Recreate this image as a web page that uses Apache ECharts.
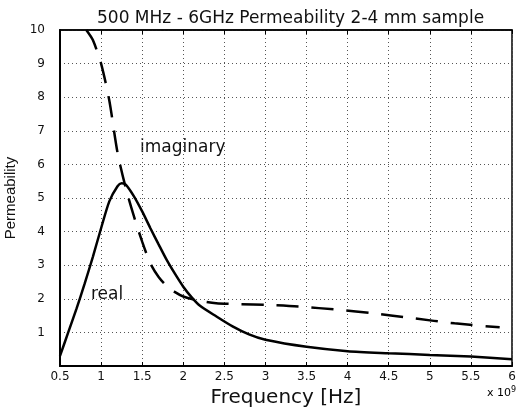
<!DOCTYPE html>
<html><head><meta charset="utf-8">
<script src="https://cdn.jsdelivr.net/npm/echarts@6/dist/echarts.min.js"></script>
<style>html,body{margin:0;padding:0;background:#fff}#c{width:522px;height:407px}</style>
</head><body><div id="c"></div>
<script>
const realFreq = [0.5, 0.6, 0.7, 0.8, 0.9, 1.0, 1.1, 1.2, 1.25, 1.3, 1.4, 1.5, 1.6, 1.7, 1.8, 1.9, 2.0, 2.1, 2.2, 2.4, 2.6, 2.8, 3.0, 3.5, 4.0, 4.5, 5.0, 5.5, 6.0];
const realVal  = [0.3, 1.0, 1.7, 2.45, 3.25, 4.1, 4.9, 5.35, 5.44, 5.4, 5.05, 4.6, 4.1, 3.62, 3.15, 2.74, 2.36, 2.05, 1.8, 1.48, 1.18, 0.94, 0.78, 0.57, 0.44, 0.38, 0.33, 0.28, 0.2];
const imagFreq = [0.82, 0.9, 1.0, 1.1, 1.2, 1.3, 1.4, 1.5, 1.6, 1.7, 1.8, 1.9, 2.0, 2.2, 2.4, 2.7, 3.0, 3.4, 3.9, 4.3, 4.8, 5.3, 5.85];
const imagVal  = [10.0, 9.7, 9.0, 7.9, 6.35, 5.3, 4.45, 3.7, 3.05, 2.65, 2.38, 2.2, 2.07, 1.94, 1.87, 1.84, 1.82, 1.77, 1.67, 1.57, 1.42, 1.27, 1.15];
const titleText = '500 MHz - 6GHz Permeability 2-4 mm sample';
const xName = 'Frequency [Hz]';
const yName = 'Permeability';

const arial = 'Liberation Sans, Arial, sans-serif';
const dv = 'DejaVu Sans, sans-serif';
const chart = echarts.init(document.getElementById('c'));
const pairs = (xs, ys) => xs.map((x, i) => [x, ys[i]]);
chart.setOption({
  animation: false,
  title: { text: titleText, left: 92, top: 5, textStyle: { fontFamily: dv, fontSize: 17, fontWeight: 'normal', color: '#111' } },
  grid: { left: 60, right: 10, top: 30, bottom: 41, show: true, borderColor: '#000', borderWidth: 1.5, outerBoundsMode: 'none', containLabel: false },
  xAxis: [{
    type: 'value', min: 0.5, max: 6, interval: 0.5,
    name: xName, nameLocation: 'middle', nameGap: 11,
    nameTextStyle: { fontFamily: dv, fontSize: 20, color: '#111' },
    axisLine: { show: true, lineStyle: { color: '#000', width: 2 } },
    axisTick: { show: true, inside: true, length: 4, lineStyle: { color: '#000' } },
    axisLabel: { fontFamily: dv, fontSize: 12, color: '#111', margin: 5 },
    splitLine: { show: true, lineStyle: { color: '#555', type: [1, 3], width: 1 } }
  }, {
    type: 'value', position: 'top', min: 0.5, max: 6, interval: 0.5,
    axisLine: { show: true, lineStyle: { color: '#000', width: 1.5 } },
    axisTick: { show: true, inside: true, length: 4, lineStyle: { color: '#000' } },
    axisLabel: { show: false }, splitLine: { show: false }
  }],
  yAxis: {
    type: 'value', min: 0, max: 10, interval: 1,
    name: yName, nameLocation: 'middle', nameGap: 36, nameRotate: 90,
    nameTextStyle: { fontFamily: arial, fontSize: 15, color: '#111' },
    axisLine: { show: true, lineStyle: { color: '#000', width: 2 } },
    axisTick: { show: false },
    axisLabel: { fontFamily: dv, fontSize: 12, color: '#111', margin: 15,
      formatter: v => v === 0 ? '' : String(v) },
    splitLine: { show: true, lineStyle: { color: '#555', type: [1, 3], width: 1 } }
  },
  series: [
    { type: 'line', name: 'real', xAxisIndex: 0, data: pairs(realFreq, realVal), smooth: 0.25, symbol: 'none',
      lineStyle: { color: '#000', width: 2.5 } },
    { type: 'line', name: 'imaginary', xAxisIndex: 0, data: pairs(imagFreq, imagVal), smooth: 0.25, symbol: 'none',
      lineStyle: { color: '#000', width: 2.5, type: [22, 13] } }
  ],
  graphic: [
    { type: 'text', left: 140, top: 139, style: { text: 'imaginary', font: '17px ' + dv, fill: '#111' } },
    { type: 'text', left: 91, top: 286, style: { text: 'real', font: '17px ' + dv, fill: '#111' } },
    { type: 'text', left: 487, top: 386, style: { rich: { a: { fontSize: 11, fontFamily: dv, color: '#111' }, s: { fontSize: 8, fontFamily: dv, color: '#111', verticalAlign: 'top', padding: [0,0,6,0] } }, text: '{a|x 10}{s|9}' } }
  ]
});
</script></body></html>
